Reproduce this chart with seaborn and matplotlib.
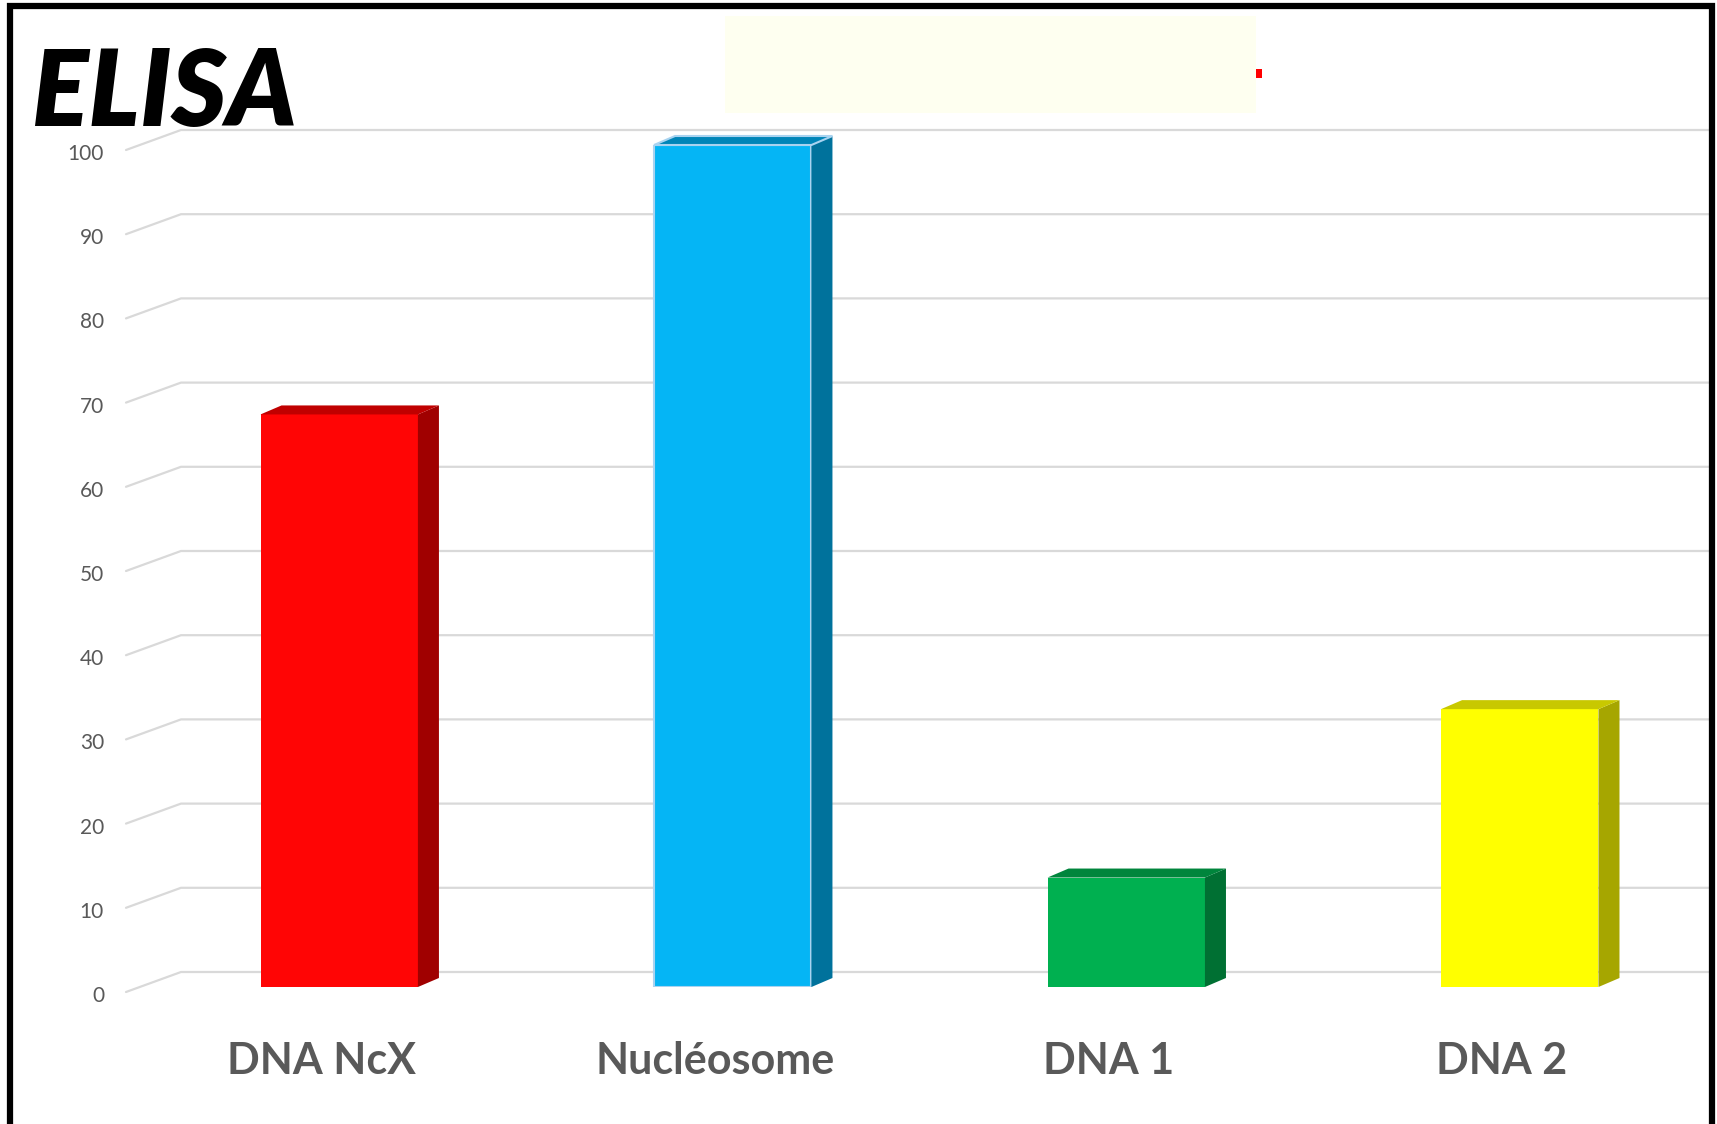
import matplotlib
matplotlib.use("Agg")
import matplotlib.pyplot as plt
import matplotlib.transforms as mtransforms
from matplotlib.patches import Polygon, Rectangle
from matplotlib.lines import Line2D
import seaborn as sns
import pandas as pd

categories = ["DNA NcX", "Nucléosome", "DNA 1", "DNA 2"]
values = [68, 100, 13, 33]
yticks = [0, 10, 20, 30, 40, 50, 60, 70, 80, 90, 100]
front_colors = ["#FF0505", "#05B5F5", "#00B050", "#FFFF00"]
side_colors = ["#A00000", "#00729C", "#007033", "#A6A600"]
top_colors = ["#C00000", "#0085B8", "#00853C", "#C8C800"]
title = "ELISA"

W, H = 1717, 1124
sns.set_theme(style="white")
plt.rcParams["font.family"] = ["Lato", "DejaVu Sans"]

fig = plt.figure(figsize=(W / 100, H / 100), dpi=100)
fig.patch.set_facecolor("white")

# axes placed in pixels: left 181, right 1709, bottom(0) at 987, top(100) at 145
ax_left, ax_right, ax_bot, ax_top = 181, 1709, 987, 145
ax = fig.add_axes([ax_left / W, (H - ax_bot) / H, (ax_right - ax_left) / W, (ax_bot - ax_top) / H])
ax.patch.set_visible(False)

df = pd.DataFrame({"cat": categories, "val": values})
sns.barplot(data=df, x="cat", y="val", hue="cat", palette=front_colors, width=0.4,
            legend=False, ax=ax, saturation=1, zorder=3, edgecolor="none")

spacing = 393.0
xmin = -(339 - ax_left) / spacing
xmax = 3 + (ax_right - 1520) / spacing
ax.set_xlim(xmin, xmax)
ax.set_ylim(0, 100)

# 3D side and top faces
dx = 21 / spacing
dy = 9 / ((ax_bot - ax_top) / 100.0)
for i, p in enumerate(ax.patches[:len(values)]):
    x0 = p.get_x()
    x1 = x0 + p.get_width()
    h = p.get_height()
    side = Polygon([(x1, 0), (x1 + dx, dy), (x1 + dx, h + dy), (x1, h)], closed=True,
                   facecolor=side_colors[i], edgecolor="none", zorder=3, clip_on=False)
    top = Polygon([(x0, h), (x0 + dx, h + dy), (x1 + dx, h + dy), (x1, h)], closed=True,
                  facecolor=top_colors[i], edgecolor="none", zorder=3, clip_on=False)
    ax.add_patch(side)
    ax.add_patch(top)
    if i == 1:
        p.set_edgecolor("#A9D3F0")
        p.set_linewidth(1.5)
        top.set_edgecolor("#A9D3F0")
        top.set_linewidth(1.5)

for s in ax.spines.values():
    s.set_visible(False)
ax.set_xlabel("")
ax.set_ylabel("")
ax.set_yticks([])
ax.set_xticks([])

# category labels (slightly left of bar centres, as in the reference)
cat_trans = mtransforms.offset_copy(ax.get_xaxis_transform(), fig=fig, x=-18, y=-74, units="dots")
for i, c in enumerate(categories):
    ax.text(i, 0, c, transform=cat_trans, ha="center", va="center",
            fontsize=31, fontweight="bold", color="#595959")

# gridlines with perspective (front diagonal + back horizontal), in pixels
fig.canvas.draw()
ident = mtransforms.IdentityTransform()
ytrans = mtransforms.offset_copy(ax.get_yaxis_transform(), fig=fig,
                                 x=-(ax_left - 104), y=-9, units="dots")
for v in yticks:
    yd = ax.transData.transform((0, v))[1]
    y_front = yd - 5
    y_back = yd + 15
    fig.add_artist(Line2D([126, 181, 1709], [y_front, y_back, y_back], transform=ident,
                          color="#D9D9D9", lw=1.6, zorder=-1))
    ax.text(0, v, str(v), transform=ytrans, ha="right", va="center", fontsize=15, color="#595959")

# title
fig.text(32 / W, 1 - 126 / H, title, fontsize=76, fontweight="heavy", style="italic",
         color="black", ha="left", va="baseline")

# pale box at top
fig.add_artist(Rectangle((725 / W, 1 - 113 / H), (1256 - 725) / W, (113 - 16) / H,
                         transform=fig.transFigure, facecolor="#FEFFF0", edgecolor="none", zorder=-2))
fig.add_artist(Rectangle((1256 / W, 1 - 78 / H), 6 / W, 9 / H,
                         transform=fig.transFigure, facecolor="#FF0000", edgecolor="none", zorder=-2))

# black frame (bottom side out of view)
fig.add_artist(Line2D([10, 10, 1712, 1712], [-10, H - 6, H - 6, -10], transform=ident,
                      color="black", lw=4.5, solid_joinstyle="miter", zorder=10))

fig.savefig("out.png", dpi=100)
